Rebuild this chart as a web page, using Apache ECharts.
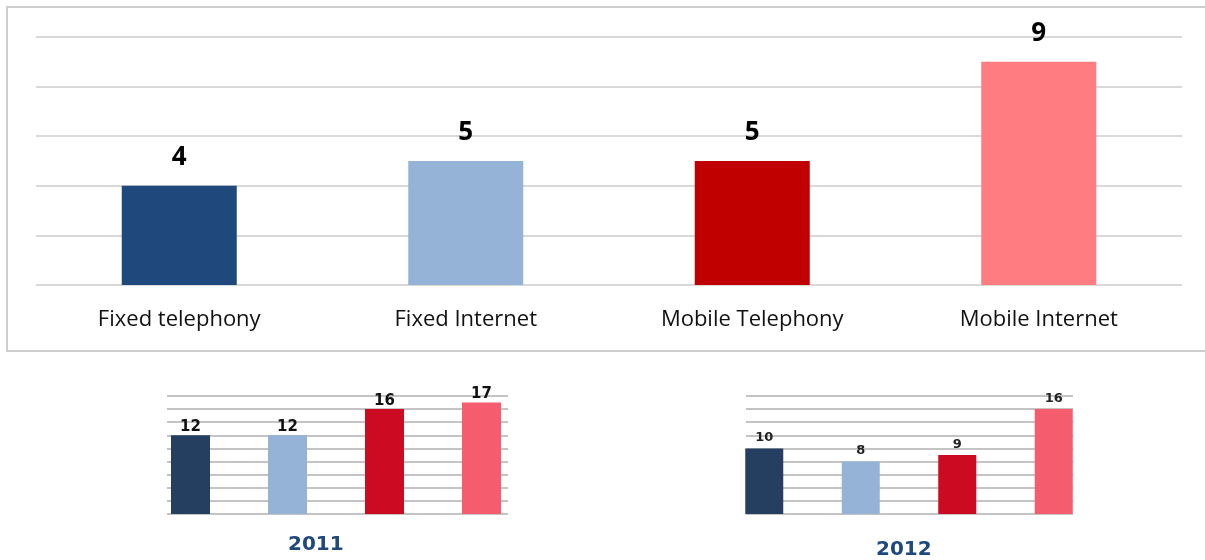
<!DOCTYPE html>
<html><head><meta charset="utf-8">
<script src="https://cdn.jsdelivr.net/npm/echarts@6/dist/echarts.min.js"></script>
<style>html,body{margin:0;padding:0;background:#fff}#c{width:1205px;height:560px}</style>
</head><body><div id="c"></div>
<script>
const categories = ['Fixed telephony', 'Fixed Internet', 'Mobile Telephony', 'Mobile Internet'];
const mainValues = [4, 5, 5, 9];
const values2011 = [12, 12, 16, 17];
const values2012 = [10, 8, 9, 16];
const mainColors = ['#1F497D', '#95B3D7', '#C00000', '#FF7C80'];
const smallColors = ['#243F60', '#95B3D7', '#CC0A22', '#F55C6E'];
const years = ['2011', '2012'];

const chart = echarts.init(document.getElementById('c'), null, {renderer: 'canvas'});

function colored(vals, cols) {
  return vals.map((v, i) => ({value: v, itemStyle: {color: cols[i]}}));
}
const hidden = {show: false};
function lineAxisY(max, color) {
  return {type: 'value', min: 0, max: max, interval: 2, axisLabel: hidden, axisLine: hidden, axisTick: hidden,
    splitLine: {show: true, lineStyle: {color: color, width: 2}}};
}
function plainY(gi, max) {
  return {type: 'value', gridIndex: gi, min: 0, max: max, interval: 2, axisLabel: hidden, axisLine: hidden, axisTick: hidden, splitLine: hidden};
}

const option = {
  animation: false,
  graphic: [
    {type: 'rect', shape: {x: 7, y: 7, width: 1210, height: 344}, style: {fill: 'none', stroke: '#CFCFCF', lineWidth: 2}, z: -1},
    {type: 'text', left: 288, top: 535, style: {text: years[0], font: 'bold 20px "DejaVu Sans"', fill: '#1F497D'}},
    {type: 'text', left: 876, top: 540, style: {text: years[1], font: 'bold 20px "DejaVu Sans"', fill: '#1F497D'}}
  ],
  grid: [
    {left: 36, right: 23, top: 37, height: 248},
    {left: 167, width: 341, top: 396, height: 118},
    {left: 142, width: 388, top: 396, height: 118},
    {left: 746, width: 327, top: 396, height: 118},
    {left: 716, width: 386, top: 396, height: 118}
  ],
  xAxis: [
    {type: 'category', gridIndex: 0, data: categories, axisLine: hidden, axisTick: hidden,
      axisLabel: {margin: 24, fontFamily: 'Open Sans', fontSize: 22, color: '#111'}},
    {type: 'category', gridIndex: 1, data: categories, show: false},
    {type: 'category', gridIndex: 2, data: categories, axisLine: hidden, axisTick: hidden, axisLabel: hidden},
    {type: 'category', gridIndex: 3, data: categories, show: false},
    {type: 'category', gridIndex: 4, data: categories, axisLine: hidden, axisTick: hidden, axisLabel: hidden}
  ],
  yAxis: [
    Object.assign(lineAxisY(10, '#D9D9D9'), {gridIndex: 0}),
    Object.assign(lineAxisY(18, '#C4C4C4'), {gridIndex: 1}),
    plainY(2, 18),
    Object.assign(lineAxisY(18, '#C4C4C4'), {gridIndex: 3}),
    plainY(4, 18)
  ],
  series: [
    {type: 'bar', xAxisIndex: 0, yAxisIndex: 0, barWidth: 115, data: colored(mainValues, mainColors),
      label: {show: true, position: 'top', distance: 15, fontFamily: 'Open Sans', fontWeight: 'bold', fontSize: 26, color: '#000'}},
    {type: 'bar', xAxisIndex: 1, yAxisIndex: 1, data: []},
    {type: 'bar', xAxisIndex: 2, yAxisIndex: 2, barWidth: 39, data: colored(values2011, smallColors),
      label: {show: true, position: 'top', distance: 1, fontFamily: 'DejaVu Sans', fontWeight: 'bold', fontSize: 15, color: '#111'}},
    {type: 'bar', xAxisIndex: 3, yAxisIndex: 3, data: []},
    {type: 'bar', xAxisIndex: 4, yAxisIndex: 4, barWidth: 38, data: colored(values2012, smallColors),
      label: {show: true, position: 'top', distance: 4, fontFamily: 'DejaVu Sans', fontWeight: 'bold', fontSize: 13, color: '#222'}}
  ]
};
chart.setOption(option);
</script>
</body></html>
